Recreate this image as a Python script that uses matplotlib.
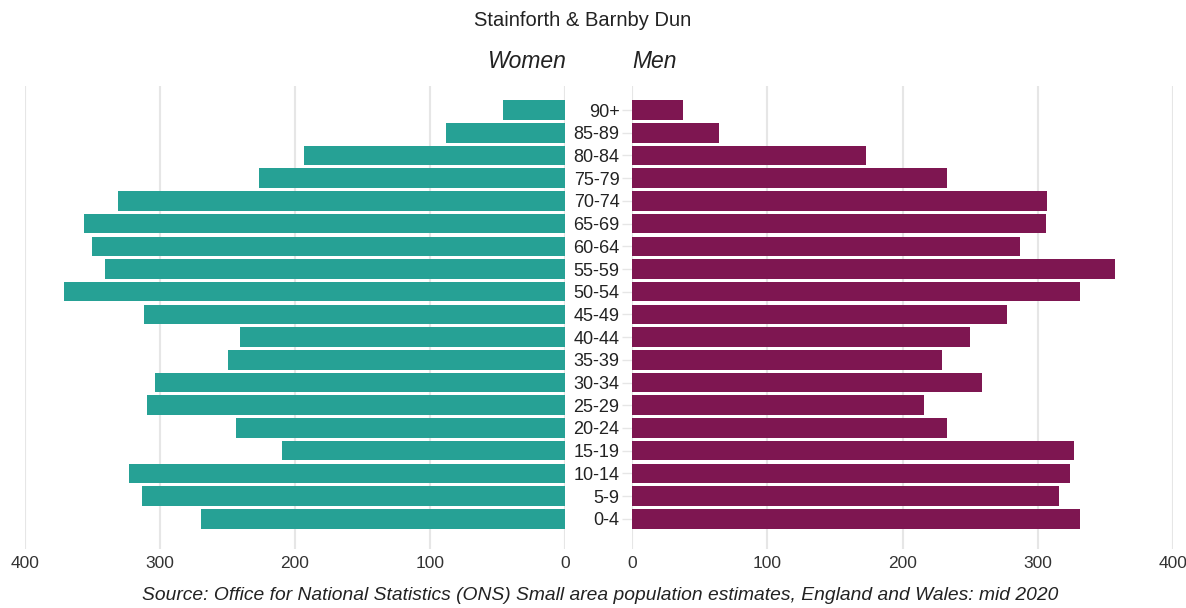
import matplotlib
matplotlib.use("Agg")
import matplotlib.pyplot as plt
import numpy as np

plt.rcParams['font.family'] = ['Liberation Sans', 'DejaVu Sans']

age_groups = ["0-4", "5-9", "10-14", "15-19", "20-24", "25-29", "30-34", "35-39",
              "40-44", "45-49", "50-54", "55-59", "60-64", "65-69", "70-74",
              "75-79", "80-84", "85-89", "90+"]
women = [270, 313, 323, 210, 244, 310, 304, 250, 241, 312, 371, 341, 350, 356,
         331, 227, 193, 88, 46]
men = [331, 316, 324, 327, 233, 216, 259, 229, 250, 277, 331, 357, 287, 306,
       307, 233, 173, 64, 38]
ticks = [0, 100, 200, 300, 400]

teal = "#26A195"
maroon = "#7E1651"
grid_c = "#e6e6e6"
txt = "#333333"

W, H = 1186, 608
fig = plt.figure(figsize=(W/100, H/100), dpi=100)

ax_top, ax_bot = 86, 549
yb = (H - ax_bot) / H
yh = (ax_bot - ax_top) / H
axL = fig.add_axes([25/W, yb, 540/W, yh])
axR = fig.add_axes([632/W, yb, 541/W, yh])

y = np.arange(len(age_groups))
axL.barh(y, women, height=0.86, color=teal, zorder=3)
axR.barh(y, men, height=0.86, color=maroon, zorder=3)

for ax in (axL, axR):
    ax.set_ylim(-1.33, 19.06)
    ax.set_xticks(ticks)
    ax.set_xticklabels([str(t) for t in ticks])
    ax.grid(axis='x', color=grid_c, linewidth=1.5, zorder=0)
    for s in ax.spines.values():
        s.set_visible(False)
    ax.tick_params(axis='x', length=0, pad=5, labelsize=12.5, colors=txt)

axL.set_xlim(400, 0)
axR.set_xlim(0, 400)
axL.set_yticks([])
axR.set_yticks(y)
axR.set_yticklabels(age_groups)
axR.tick_params(axis='y', length=7, width=1, color=grid_c, pad=2,
                labelsize=13, labelcolor="#222222")

fig.text(583/W, 1 - 20/H, "Stainforth & Barnby Dun", ha='center', va='center',
         fontsize=14.5, color="#222222")
fig.text(526/W, 1 - 62/H, "Women", ha='center', va='center', fontsize=16.5,
         style='italic', color="#222222")
fig.text(655/W, 1 - 62/H, "Men", ha='center', va='center', fontsize=16.5,
         style='italic', color="#222222")
fig.text(600/W, 1 - 595/H,
         "Source: Office for National Statistics (ONS) Small area population estimates, England and Wales: mid 2020",
         ha='center', va='center', fontsize=13.9, style='italic', color="#222222")

fig.savefig("out.png", dpi=100)
